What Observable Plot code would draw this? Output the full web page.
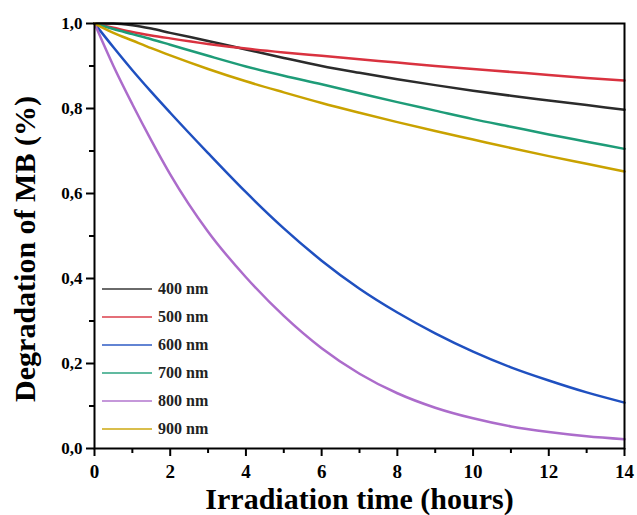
<!DOCTYPE html>
<html>
<head>
<meta charset="utf-8">
<script src="https://cdn.jsdelivr.net/npm/d3@7"></script>
<script src="https://cdn.jsdelivr.net/npm/@observablehq/plot@0.6"></script>
<style>
  html, body { margin: 0; padding: 0; background: #fff; }
  #chart { position: relative; width: 637px; height: 515px; }
  #legend { position: absolute; left: 102px; top: 275px; font-family: "Liberation Serif", "Times New Roman", serif; font-weight: bold; font-size: 16px; color: #222; }
  #legend .row { display: flex; align-items: center; height: 28px; }
  #legend svg { margin-right: 6px; }
</style>
</head>
<body>
<div id="chart"><div id="legend"></div></div>
<script>
const hours = [0, 0.5, 1, 1.5, 2, 3, 4, 5, 6, 7, 8, 9, 10, 11, 12, 13, 14];
const seriesNames = ["400 nm", "500 nm", "600 nm", "700 nm", "800 nm", "900 nm"];
const seriesColors = ["#2b2b2b", "#d9323f", "#1f50c0", "#1e9c78", "#ac6ccb", "#c9a200"];
const v400 = [1.0, 1.0, 0.996, 0.988, 0.978, 0.959, 0.939, 0.919, 0.90, 0.884, 0.869, 0.855, 0.842, 0.83, 0.819, 0.808, 0.797];
const v500 = [1.0, 0.99, 0.98, 0.972, 0.965, 0.952, 0.941, 0.932, 0.924, 0.916, 0.908, 0.90, 0.893, 0.886, 0.879, 0.872, 0.866];
const v600 = [1.0, 0.944, 0.89, 0.839, 0.79, 0.695, 0.603, 0.518, 0.442, 0.376, 0.32, 0.271, 0.228, 0.191, 0.16, 0.132, 0.108];
const v700 = [1.0, 0.987, 0.975, 0.963, 0.95, 0.924, 0.899, 0.877, 0.857, 0.836, 0.815, 0.795, 0.775, 0.757, 0.739, 0.722, 0.705];
const v800 = [1.0, 0.9, 0.81, 0.725, 0.645, 0.51, 0.403, 0.312, 0.236, 0.176, 0.13, 0.096, 0.071, 0.052, 0.039, 0.029, 0.022];
const v900 = [1.0, 0.978, 0.96, 0.942, 0.925, 0.893, 0.864, 0.838, 0.813, 0.79, 0.768, 0.747, 0.727, 0.707, 0.688, 0.67, 0.652];
const xMajor = [0, 2, 4, 6, 8, 10, 12, 14];
const xMinor = [1, 3, 5, 7, 9, 11, 13];
const yMajor = [0, 0.2, 0.4, 0.6, 0.8, 1.0];
const yMinor = [0.1, 0.3, 0.5, 0.7, 0.9];

const allValues = [v400, v500, v600, v700, v800, v900];
const data = [];
seriesNames.forEach((name, i) => {
  hours.forEach((h, j) => data.push({series: name, hour: h, value: allValues[i][j]}));
});

const comma = d => d3.format(".1f")(d).replace(".", ",");
const font = "'Liberation Serif', 'Times New Roman', serif";

const plot = Plot.plot({
  width: 637,
  height: 515,
  marginLeft: 94,
  marginRight: 13,
  marginTop: 23,
  marginBottom: 67,
  style: {fontFamily: font, background: "#fff", color: "#000"},
  x: {domain: [0, 14]},
  y: {domain: [0, 1]},
  color: {domain: seriesNames, range: seriesColors},
  marks: [
    Plot.line(data, {x: "hour", y: "value", z: "series", stroke: "series", strokeWidth: 2.5, curve: "monotone-x"}),
    Plot.frame({stroke: "#000", strokeWidth: 2}),
    Plot.axisX({ticks: xMajor, tickSize: 8, tickPadding: 8, strokeWidth: 2, tickFormat: d => String(d), fontSize: 19, fontWeight: "bold", label: null}),
    Plot.axisX({ticks: xMinor, tickSize: 5, strokeWidth: 2, tickFormat: () => "", label: null}),
    Plot.axisX({ticks: [], label: "Irradiation time (hours)", labelAnchor: "center", labelArrow: "none", labelOffset: 60, fontSize: 30, fontWeight: "bold"}),
    Plot.axisY({ticks: yMajor, tickSize: 8, tickPadding: 4, strokeWidth: 2, tickFormat: comma, fontSize: 17, fontWeight: "bold", label: null}),
    Plot.axisY({ticks: yMinor, tickSize: 5, strokeWidth: 2, tickFormat: () => "", label: null}),
    Plot.axisY({ticks: [], label: "Degradation of MB (%)", labelAnchor: "center", labelArrow: "none", labelOffset: 81, fontSize: 30, fontWeight: "bold"})
  ]
});
const chart = document.getElementById("chart");
chart.insertBefore(plot, chart.firstChild);
const yLabel = plot.querySelector('g[aria-label="y-axis label"]');
if (yLabel) {
  const t = yLabel.getAttribute("transform") || "";
  yLabel.setAttribute("transform", (t + " translate(0,13)").trim());
}

const legend = d3.select("#legend");
seriesNames.forEach((name, i) => {
  const row = legend.append("div").attr("class", "row");
  const s = row.append("svg").attr("width", 50).attr("height", 6);
  s.append("line").attr("x1", 0).attr("x2", 50).attr("y1", 3).attr("y2", 3)
    .attr("stroke", seriesColors[i]).attr("stroke-width", 2).attr("stroke-opacity", 0.7);
  row.append("span").text(name);
});
</script>
</body>
</html>
